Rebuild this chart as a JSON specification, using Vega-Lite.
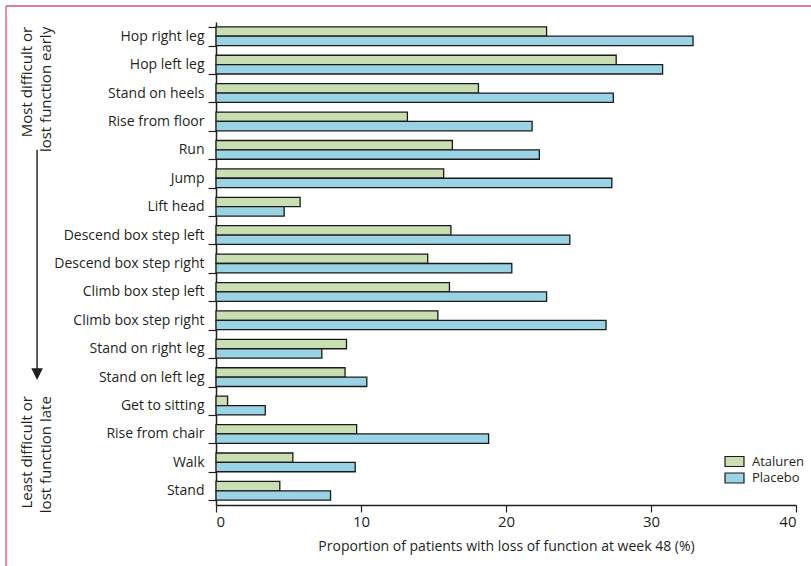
{
  "$schema": "https://vega.github.io/schema/vega-lite/v6.json",
  "autosize": {"type": "none"},
  "padding": {"left": 216, "top": 22, "right": 15, "bottom": 61},
  "width": 580,
  "height": 483,
  "background": "white",
  "config": {
    "view": {"stroke": null},
    "font": "Open Sans",
    "axis": {"labelColor": "#231f20", "titleColor": "#231f20", "domainColor": "#231f20", "tickColor": "#231f20", "grid": false}
  },
  "datasets": {
    "bars": [
      {"task": "Hop right leg", "series": "Ataluren", "value": 22.8},
      {"task": "Hop right leg", "series": "Placebo", "value": 32.9},
      {"task": "Hop left leg", "series": "Ataluren", "value": 27.6},
      {"task": "Hop left leg", "series": "Placebo", "value": 30.8},
      {"task": "Stand on heels", "series": "Ataluren", "value": 18.1},
      {"task": "Stand on heels", "series": "Placebo", "value": 27.4},
      {"task": "Rise from floor", "series": "Ataluren", "value": 13.2},
      {"task": "Rise from floor", "series": "Placebo", "value": 21.8},
      {"task": "Run", "series": "Ataluren", "value": 16.3},
      {"task": "Run", "series": "Placebo", "value": 22.3},
      {"task": "Jump", "series": "Ataluren", "value": 15.7},
      {"task": "Jump", "series": "Placebo", "value": 27.3},
      {"task": "Lift head", "series": "Ataluren", "value": 5.8},
      {"task": "Lift head", "series": "Placebo", "value": 4.7},
      {"task": "Descend box step left", "series": "Ataluren", "value": 16.2},
      {"task": "Descend box step left", "series": "Placebo", "value": 24.4},
      {"task": "Descend box step right", "series": "Ataluren", "value": 14.6},
      {"task": "Descend box step right", "series": "Placebo", "value": 20.4},
      {"task": "Climb box step left", "series": "Ataluren", "value": 16.1},
      {"task": "Climb box step left", "series": "Placebo", "value": 22.8},
      {"task": "Climb box step right", "series": "Ataluren", "value": 15.3},
      {"task": "Climb box step right", "series": "Placebo", "value": 26.9},
      {"task": "Stand on right leg", "series": "Ataluren", "value": 9.0},
      {"task": "Stand on right leg", "series": "Placebo", "value": 7.3},
      {"task": "Stand on left leg", "series": "Ataluren", "value": 8.9},
      {"task": "Stand on left leg", "series": "Placebo", "value": 10.4},
      {"task": "Get to sitting", "series": "Ataluren", "value": 0.8},
      {"task": "Get to sitting", "series": "Placebo", "value": 3.4},
      {"task": "Rise from chair", "series": "Ataluren", "value": 9.7},
      {"task": "Rise from chair", "series": "Placebo", "value": 18.8},
      {"task": "Walk", "series": "Ataluren", "value": 5.3},
      {"task": "Walk", "series": "Placebo", "value": 9.6},
      {"task": "Stand", "series": "Ataluren", "value": 4.4},
      {"task": "Stand", "series": "Placebo", "value": 7.9}
    ],
    "notes": [
      {"task": "Hop right leg", "xv": -12.69, "lines": ["Most difficult or", "lost function early"]},
      {"task": "Get to sitting", "xv": -12.69, "lines": ["Least difficult or", "lost function late"]}
    ],
    "arrow": [
      {"task": "Run", "task2": "Stand on left leg", "xv": -12.34}
    ],
    "frame": [
      {"x1": -14.48, "x2": 45, "y1": 499, "y2": 499},
      {"x1": -14.48, "x2": -14.48, "y1": 499, "y2": -95}
    ]
  },
  "layer": [
    {
      "layer": [
        {
          "data": {"name": "bars"},
          "mark": {"type": "bar", "stroke": "#1a1a1a", "strokeWidth": 1.3},
          "encoding": {
            "y": {
              "field": "task", "type": "nominal", "sort": null,
              "scale": {"paddingInner": 0.34, "paddingOuter": 0.17},
              "axis": {"title": null, "tickBand": "extent", "tickSize": 8, "tickWidth": 1.2, "domainWidth": 1.5, "labelFontSize": 14, "labelPadding": 4}
            },
            "yOffset": {"field": "series", "type": "nominal", "sort": ["Ataluren", "Placebo"]},
            "x": {
              "field": "value", "type": "quantitative",
              "scale": {"domain": [0, 40], "nice": false, "zero": true},
              "axis": {"title": "Proportion of patients with loss of function at week 48 (%)", "values": [0, 10, 20, 30, 40], "tickSize": 7, "tickWidth": 1.2, "domainWidth": 1.3, "labelFontSize": 15, "labelPadding": 2, "titleFontSize": 14, "titleFontWeight": "normal", "titlePadding": 10}
            },
            "color": {
              "field": "series", "type": "nominal",
              "scale": {"domain": ["Ataluren", "Placebo"], "range": ["#c9dfb2", "#99d3e4"]},
              "legend": {"title": null, "orient": "none", "legendX": 512, "legendY": 433, "padding": 0, "symbolType": "M-2,-1.05H2V1.05H-2Z", "symbolSize": 90, "symbolStrokeColor": "#1a1a1a", "symbolStrokeWidth": 1.2, "symbolOpacity": 1, "labelFontSize": 13, "labelOffset": 11, "labelColor": "#231f20", "rowPadding": 1.5}
            }
          }
        },
        {
          "data": {"name": "notes"},
          "mark": {"type": "text", "angle": 270, "align": "right", "baseline": "alphabetic", "fontSize": 15, "lineHeight": 19, "color": "#231f20"},
          "encoding": {
            "y": {"field": "task", "type": "nominal", "sort": null, "bandPosition": 0},
            "x": {"field": "xv", "type": "quantitative"},
            "text": {"field": "lines"}
          }
        },
        {
          "data": {"name": "arrow"},
          "mark": {"type": "rule", "color": "#231f20", "strokeWidth": 1.4},
          "encoding": {
            "y": {"field": "task", "type": "nominal", "sort": null},
            "y2": {"field": "task2"},
            "x": {"field": "xv", "type": "quantitative"}
          }
        },
        {
          "data": {"name": "arrow"},
          "mark": {"type": "point", "shape": "M-1,-1L1,-1L0,1Z", "size": 135, "filled": true, "color": "#231f20", "opacity": 1},
          "encoding": {
            "y": {"field": "task2", "type": "nominal", "sort": null, "bandPosition": 0.34},
            "x": {"field": "xv", "type": "quantitative"}
          }
        }
      ]
    },
    {
      "data": {"name": "frame"},
      "mark": {"type": "rule", "color": "#d8507c", "strokeWidth": 1.3},
      "encoding": {
        "x": {"field": "x1", "type": "quantitative"},
        "x2": {"field": "x2"},
        "y": {"field": "y1", "type": "quantitative", "scale": {"domain": [0, 483], "nice": false, "zero": false}, "axis": null},
        "y2": {"field": "y2"}
      }
    }
  ],
  "resolve": {"scale": {"y": "independent"}, "axis": {"y": "independent"}}
}
